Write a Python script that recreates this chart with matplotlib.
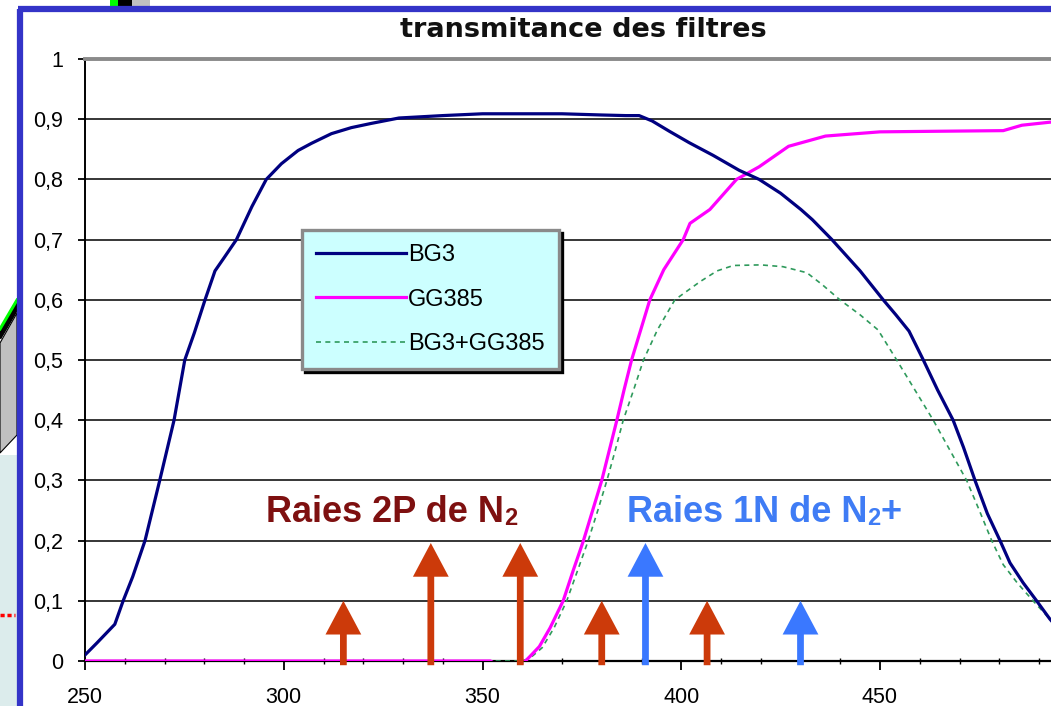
import matplotlib
matplotlib.use("Agg")
import matplotlib.pyplot as plt
from matplotlib.patches import Rectangle, Polygon
from matplotlib.lines import Line2D

plt.rcParams['font.family'] = ['Liberation Sans', 'DejaVu Sans']

# ---- transmission curves (wavelength in nm, transmittance 0..1) ----
bg3_nm = [250, 253, 257.5, 259.6, 262, 265.1, 268.8, 272.4, 275.1, 277.5, 280.2,
          282.7, 285, 288.1, 292, 295.6, 299.4, 303.6, 307, 312, 317, 322,
          329, 340, 350, 360, 370, 380, 386, 389.4, 392.7, 397, 402, 408,
          414.6, 419.6, 425, 430.1, 433, 437.9, 445, 450.8, 454, 457.3,
          460.9, 464.5, 468.4, 471, 473.9, 477, 480.2, 482.7, 486, 489.4,
          492.7, 496, 500]
bg3_t = [0.01, 0.03, 0.061, 0.10, 0.14, 0.20, 0.30, 0.40, 0.50, 0.545, 0.60,
         0.648, 0.67, 0.70, 0.755, 0.80, 0.826, 0.848, 0.86, 0.876, 0.886, 0.893,
         0.902, 0.906, 0.909, 0.909, 0.909, 0.907, 0.906, 0.906, 0.897, 0.88, 0.861, 0.84,
         0.815, 0.80, 0.777, 0.75, 0.733, 0.70, 0.648, 0.60, 0.575, 0.548,
         0.50, 0.45, 0.40, 0.355, 0.30, 0.245, 0.20, 0.163, 0.13, 0.10,
         0.07, 0.045, 0.02]

gg385_nm = [250, 300, 352, 353, 360, 360.8, 362, 364.3, 367, 370.3, 372.8, 375.4,
            377.7, 380.0, 381.9, 383.8, 385.6, 387.5, 389.8, 392.1, 395.6,
            400.5, 402.2, 407.2, 413.9, 419.6, 427, 436.3, 450, 465, 481,
            485.7, 492.7, 500]
gg385_t = [0.0, 0.0, 0.0, -0.004, -0.004, 0.0, 0.008, 0.024, 0.055, 0.10, 0.15, 0.20,
           0.25, 0.30, 0.35, 0.40, 0.45, 0.50, 0.55, 0.60, 0.65,
           0.70, 0.727, 0.75, 0.80, 0.821, 0.855, 0.872, 0.879, 0.880, 0.881,
           0.89, 0.895, 0.898]

combo_nm = [250, 300, 360, 362, 365, 368, 371.2, 373.9, 376.6, 379, 381.3, 383.4,
            385.4, 388, 390.5, 394, 398.4, 404.7, 409, 413.1, 420, 425.6, 431.6,
            435.5, 439.9, 445, 449.5, 454.2, 458.8, 463.4, 467.6, 471.8, 475,
            478.1, 481, 484.5, 488.5, 492.7, 500]
combo_t = [0.0, 0.0, 0.0, 0.005, 0.022, 0.055, 0.10, 0.15, 0.20, 0.25, 0.30, 0.35,
           0.40, 0.45, 0.50, 0.55, 0.60, 0.63, 0.648, 0.657, 0.658, 0.655, 0.645,
           0.625, 0.60, 0.575, 0.55, 0.50, 0.45, 0.40, 0.35, 0.30, 0.25,
           0.20, 0.16, 0.13, 0.10, 0.07, 0.02]

# ---- emission lines ----
n2_2p_nm = [315, 337, 359.5, 380, 406.5]
n2_2p_top = [0.10, 0.196, 0.196, 0.10, 0.10]
n2p_1n_nm = [391, 430]
n2p_1n_top = [0.196, 0.10]

y_ticks = [0, 0.1, 0.2, 0.3, 0.4, 0.5, 0.6, 0.7, 0.8, 0.9, 1.0]
y_labels = ['0', '0,1', '0,2', '0,3', '0,4', '0,5', '0,6', '0,7', '0,8', '0,9', '1']
x_ticks = [250, 300, 350, 400, 450, 500]
x_labels = ['250', '300', '350', '400', '450', '']

W, H = 1051, 706
fig = plt.figure(figsize=(W / 100, H / 100), dpi=100)
fig.patch.set_facecolor('white')

px_per_nm = 3.975
left_px, top_px, bottom_px = 85, 59, 661
ax = fig.add_axes([left_px / W, 1 - bottom_px / H,
                   250 * px_per_nm / W, (bottom_px - top_px) / H])
ax.set_xlim(250, 500)
ax.set_ylim(0, 1)
ax.set_facecolor('white')

# horizontal grid
for yv in y_ticks[1:-1]:
    ax.axhline(yv, color='black', lw=1.1, zorder=1)

ax.spines['right'].set_visible(False)
ax.spines['top'].set_color('#8a8a8a')
ax.spines['top'].set_linewidth(2.8)
ax.spines['left'].set_linewidth(1.4)
ax.spines['bottom'].set_linewidth(1.6)

ax.set_yticks(y_ticks)
ax.set_yticklabels(y_labels)
ax.set_xticks(x_ticks)
ax.set_xticklabels(x_labels)
ax.set_xticks(range(250, 501, 10), minor=True)
ax.tick_params(axis='y', direction='out', length=5, width=1.3, pad=10.5,
               labelsize=15.5, colors='black')
ax.tick_params(axis='x', which='major', direction='out', length=6.5, width=1.3,
               pad=12, labelsize=15.5)
ax.tick_params(axis='x', which='minor', direction='inout', length=4.5, width=1.0)

# curves
ax.plot(combo_nm, combo_t, color='#2f9a5c', lw=1.2, ls=(0, (3, 2.6)),
        label='BG3+GG385', zorder=3)
ax.plot(gg385_nm, gg385_t, color='#ff00ff', lw=2.3, label='GG385', zorder=4)
ax.plot(bg3_nm, bg3_t, color='#000080', lw=2.3, label='BG3', zorder=5)

# emission line arrows
def draw_arrows(xs, tops, color):
    for x, top in zip(xs, tops):
        ax.arrow(x, -0.007, 0, top + 0.007, width=1.7, head_width=9.0,
                 head_length=0.056, length_includes_head=True,
                 color=color, lw=0, clip_on=False, zorder=6)

draw_arrows(n2_2p_nm, n2_2p_top, '#cc3a0a')
draw_arrows(n2p_1n_nm, n2p_1n_top, '#3a78ff')


def label_with_subscript(x, y, head, sub, tail, color):
    big = dict(color=color, fontsize=26, fontweight='bold', zorder=7)
    t1 = ax.text(x, y, head, ha='left', va='baseline', **big)
    t2 = ax.annotate(sub, xy=(1, 0), xycoords=t1, ha='left', va='bottom',
                     color=color, fontsize=17, fontweight='bold', zorder=7)
    if tail:
        ax.annotate(tail, xy=(1, 0), xycoords=t2, ha='left', va='bottom', **big)


label_with_subscript(295.5, 0.231, 'Raies 2P de N', '2', '', '#7e1010')
label_with_subscript(386.3, 0.231, 'Raies 1N de N', '2', '+', '#3f7cf5')

# legend
handles = [Line2D([], [], color='#000080', lw=2.3),
           Line2D([], [], color='#ff00ff', lw=2.3),
           Line2D([], [], color='#2f9a5c', lw=1.2, ls=(0, (3, 2.6)))]
leg = ax.legend(handles, ['BG3', 'GG385', 'BG3+GG385'],
                loc='upper left', bbox_to_anchor=(302 / W, 1 - 230 / H),
                bbox_transform=fig.transFigure, borderaxespad=0,
                fontsize=17, frameon=True, fancybox=False,
                facecolor='#ccffff', edgecolor='#8a8a8a', framealpha=1,
                shadow={'color': 'black', 'alpha': 1}, borderpad=0.6,
                labelspacing=0.95, handlelength=3.8, handletextpad=0.1)
leg.get_frame().set_linewidth(2.4)
leg.set_zorder(8)

# title
fig.text(583.5 / W, 1 - 30 / H, 'transmitance des filtres', ha='center', va='center',
         fontsize=19.5, fontweight='bold', family='DejaVu Sans', color='#111111')

# ---- surrounding slide decoration ----
frame_col = '#3434c8'
fig.patches.append(Rectangle((0, 0), 17 / W, 1 - 455 / H, transform=fig.transFigure,
                             facecolor='#dcecec', edgecolor='none'))
fig.patches.append(Polygon([(0, 1 - 343 / H), (17 / W, 1 - 313 / H),
                            (17 / W, 1 - 435 / H), (0, 1 - 453 / H)],
                           closed=True, transform=fig.transFigure,
                           facecolor='#c0c0c0', edgecolor='black', lw=0.8))
fig.add_artist(Line2D([0, 17 / W], [1 - 335 / H, 1 - 306 / H], color='black',
                      lw=4.5, transform=fig.transFigure))
fig.add_artist(Line2D([0, 17 / W], [1 - 329 / H, 1 - 300 / H], color='#00ff00',
                      lw=2.2, transform=fig.transFigure))
fig.add_artist(Line2D([0, 15 / W], [1 - 615 / H, 1 - 615 / H], color='#ff0000',
                      lw=2.5, ls=(0, (1.2, 0.8)), transform=fig.transFigure))
fig.patches.append(Rectangle((110 / W, 1 - 8 / H), 8 / W, 8 / H,
                             transform=fig.transFigure, facecolor='#00ff00',
                             edgecolor='none'))
fig.patches.append(Rectangle((118 / W, 1 - 8 / H), 14 / W, 8 / H,
                             transform=fig.transFigure, facecolor='black',
                             edgecolor='none'))
fig.patches.append(Rectangle((132 / W, 1 - 8 / H), 18 / W, 8 / H,
                             transform=fig.transFigure, facecolor='#c0c0c0',
                             edgecolor='none'))
fig.add_artist(Line2D([20 / W, 20 / W], [0, 1 - 9 / H], color=frame_col, lw=4.5,
                      transform=fig.transFigure, solid_capstyle='butt'))
fig.add_artist(Line2D([17.5 / W, 1], [1 - 9 / H, 1 - 9 / H], color=frame_col, lw=4.5,
                      transform=fig.transFigure, solid_capstyle='butt'))

fig.savefig('out.png', dpi=100, facecolor='white')
